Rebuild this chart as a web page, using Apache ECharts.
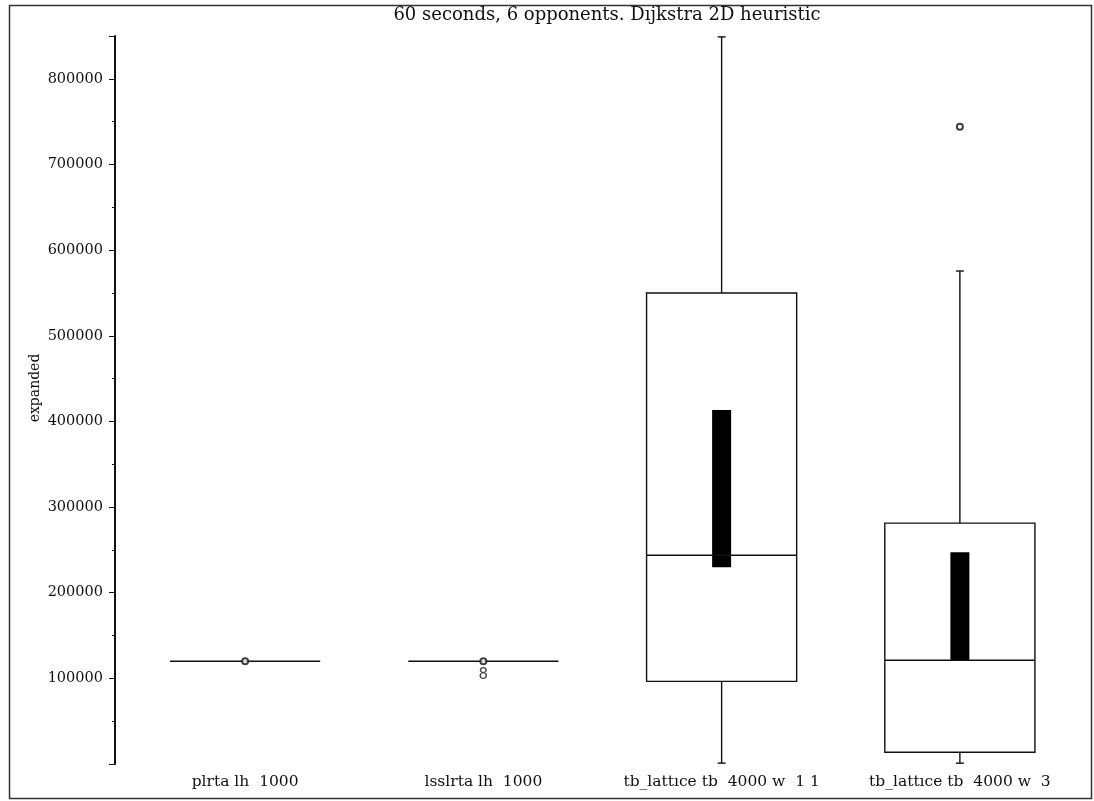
<!DOCTYPE html>
<html>
<head>
<meta charset="utf-8">
<script src="https://cdn.jsdelivr.net/npm/echarts@6/dist/echarts.min.js"></script>
<style>html,body{margin:0;padding:0;background:#fff;}#c{width:1094px;height:801px;}</style>
</head>
<body>
<div id="c"></div>
<script>
var titleText = '60 seconds, 6 opponents. D\u0131jkstra 2D heuristic';
var yName = 'expanded';
var categories = ['plrta lh  1000', 'lsslrta lh  1000', 'tb_latt\u0131ce tb  4000 w  1 1', 'tb_latt\u0131ce tb  4000 w  3'];
var whiskerLow  = [120000, 120000, 1000, 1000];
var q1          = [120000, 120000, 96500, 13800];
var medians     = [120000, 120000, 243800, 121100];
var q3          = [120000, 120000, 550000, 281200];
var whiskerHigh = [120000, 120000, 849000, 575600];
var notchLow    = [null, null, 229700, 121100];
var notchHigh   = [null, null, 413300, 247300];
var outlierCat  = [0, 1, 3];
var outlierVal  = [120000, 120000, 744000];
var outlierTxt  = ['', '8', ''];
var yTicks = { min: 0, max: 850000, interval: 100000 };

var boxData = categories.map(function (c, i) {
  return [i, whiskerLow[i], q1[i], medians[i], q3[i], whiskerHigh[i],
          notchLow[i] == null ? NaN : notchLow[i], notchHigh[i] == null ? NaN : notchHigh[i]];
});
var outData = outlierCat.map(function (c, i) {
  return { value: [c, outlierVal[i]], label: { show: outlierTxt[i] !== '', formatter: outlierTxt[i] } };
});

var stroke = '#111';
function renderBox(params, api) {
  var i = api.value(0);
  var band = api.size([1, 0])[0];
  var half = band * 0.315;
  var cap = 4;
  var x = api.coord([i, 0])[0];
  var yMin = api.coord([i, api.value(1)])[1];
  var yQ1 = api.coord([i, api.value(2)])[1];
  var yMed = api.coord([i, api.value(3)])[1];
  var yQ3 = api.coord([i, api.value(4)])[1];
  var yMax = api.coord([i, api.value(5)])[1];
  var st = { stroke: stroke, lineWidth: 1.4, fill: null };
  var children = [];
  if (Math.abs(yQ1 - yQ3) < 0.5) {
    children.push({ type: 'line', shape: { x1: x - half, y1: yMed, x2: x + half, y2: yMed }, style: st });
    return { type: 'group', children: children };
  }
  var nl = api.value(6), nh = api.value(7);
  if (!isNaN(nl) && !isNaN(nh)) {
    var yl = api.coord([i, nl])[1], yh = api.coord([i, nh])[1];
    children.push({ type: 'rect', shape: { x: x - 9.5, y: yh, width: 19, height: yl - yh }, style: { fill: '#000' } });
  }
  children.push({ type: 'rect', shape: { x: x - half, y: yQ3, width: half * 2, height: yQ1 - yQ3 }, style: st });
  children.push({ type: 'line', shape: { x1: x - half, y1: yMed, x2: x + half, y2: yMed }, style: st });
  children.push({ type: 'line', shape: { x1: x, y1: yQ3, x2: x, y2: yMax }, style: st });
  children.push({ type: 'line', shape: { x1: x, y1: yQ1, x2: x, y2: yMin }, style: st });
  children.push({ type: 'line', shape: { x1: x - cap, y1: yMax, x2: x + cap, y2: yMax }, style: st });
  children.push({ type: 'line', shape: { x1: x - cap, y1: yMin, x2: x + cap, y2: yMin }, style: st });
  return { type: 'group', children: children };
}

var chart = echarts.init(document.getElementById('c'), null, { renderer: 'canvas' });
chart.setOption({
  animation: false,
  backgroundColor: '#fff',
  title: {
    text: titleText, left: 602, top: 1, textAlign: 'center',
    textStyle: { fontFamily: 'DejaVu Serif', fontSize: 18, fontWeight: 'normal', color: '#111' }
  },
  grid: { left: 126, right: 15, top: 36, bottom: 37 },
  xAxis: {
    type: 'category', data: categories,
    axisLine: { show: false }, axisTick: { show: false }, splitLine: { show: false },
    axisLabel: { margin: 10, fontFamily: 'DejaVu Serif', fontSize: 15.5, color: '#111', interval: 0 }
  },
  yAxis: {
    type: 'value', min: yTicks.min, max: yTicks.max, interval: yTicks.interval, offset: 11,
    name: yName, nameLocation: 'middle', nameGap: 73, nameMoveOverlap: false,
    nameTextStyle: { fontFamily: 'DejaVu Serif', fontSize: 14, color: '#111', padding: [0, 0, 0, 24] },
    axisLine: { show: true, lineStyle: { color: '#111', width: 2 } },
    axisTick: { show: true, length: 6, lineStyle: { color: '#111', width: 1 } },
    minorTick: { show: true, splitNumber: 2, length: 3, lineStyle: { color: '#111', width: 1 } },
    splitLine: { show: false },
    axisLabel: { showMinLabel: false, showMaxLabel: false, margin: 12, fontFamily: 'DejaVu Serif', fontSize: 14.5, color: '#111',
      formatter: function (v) { return String(v); } }
  },
  series: [
    { type: 'custom', renderItem: renderBox, data: boxData, encode: { x: 0, y: [1, 5] }, z: 2 },
    {
      type: 'scatter', data: outData, symbol: 'emptyCircle', symbolSize: 6, z: 3,
      itemStyle: { color: '#111', borderColor: '#111', borderWidth: 1 },
      label: { position: 'bottom', distance: 2, fontFamily: 'DejaVu Sans', fontSize: 15, color: '#111' }
    }
  ],
  graphic: [
    { type: 'rect', silent: true, z: 0, shape: { x: 9.5, y: 5.5, width: 1082, height: 793 },
      style: { fill: null, stroke: '#333', lineWidth: 1.5 } }
  ]
});
</script>
</body>
</html>
